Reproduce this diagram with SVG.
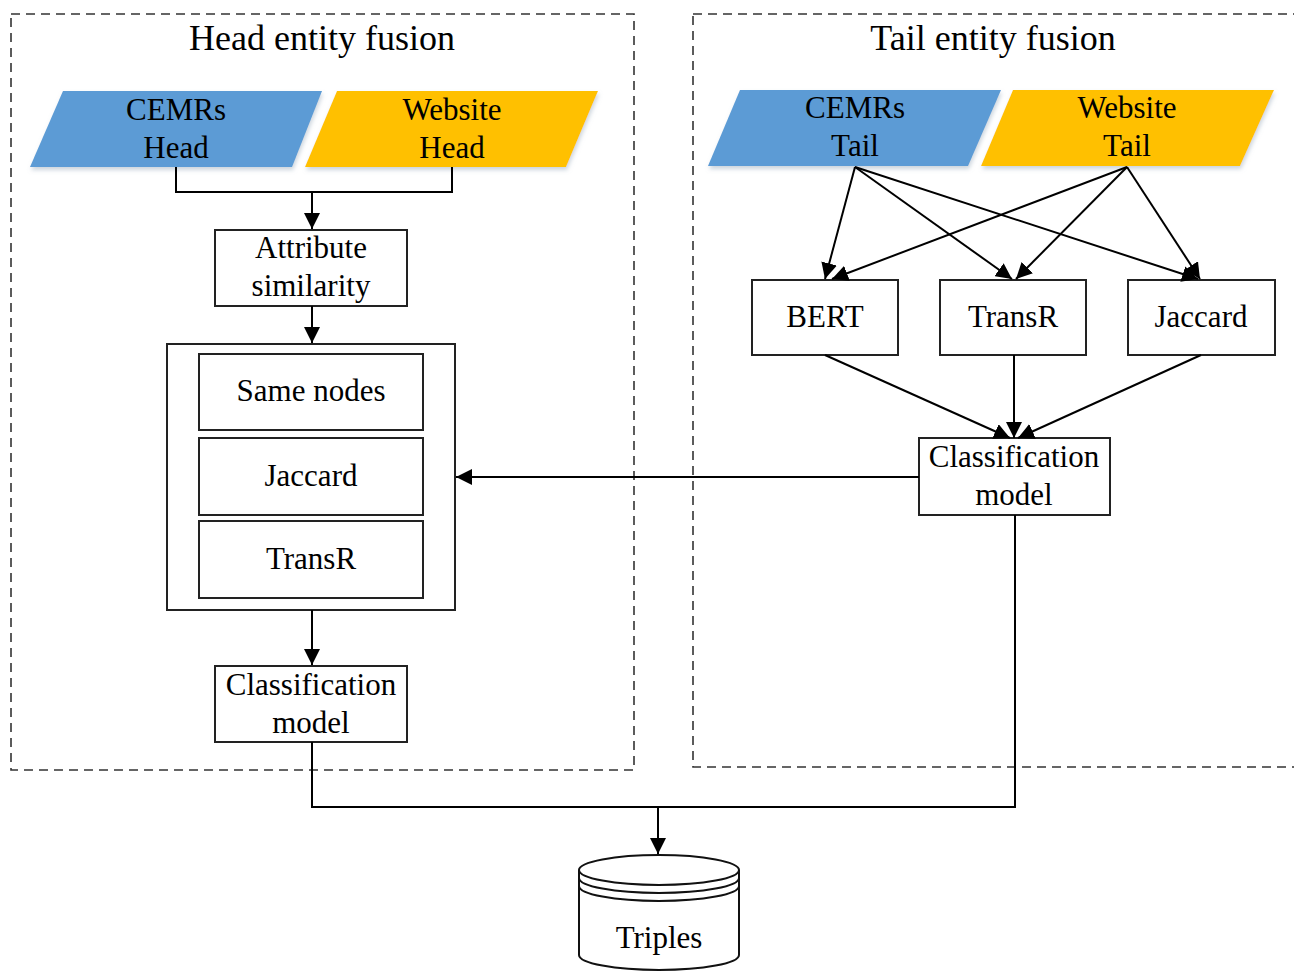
<svg xmlns="http://www.w3.org/2000/svg" width="1294" height="972" viewBox="0 0 1294 972">
<style>
text{font-family:"Liberation Serif","Times New Roman",serif;fill:#000;text-anchor:middle}
.t{font-size:36px}
.n{font-size:31px}
.box{fill:#fff;stroke:#222;stroke-width:2}
.dash{fill:none;stroke:#333;stroke-width:1.6;stroke-dasharray:9,6}
.ln{fill:none;stroke:#000;stroke-width:2}
.blue{fill:#5b9bd5}
.gold{fill:#ffc000}
</style>
<defs>
<marker id="ah2" viewBox="0 0 10 10" refX="10" refY="5" markerWidth="16" markerHeight="16" markerUnits="userSpaceOnUse" orient="auto"><path d="M0,0 L10,5 L0,10 z" fill="#000"/></marker>
<filter id="sh" x="-10%" y="-10%" width="120%" height="130%"><feDropShadow dx="1" dy="3" stdDeviation="2" flood-color="#9ab" flood-opacity="0.5"/></filter>
</defs>

<g id="head-group">
<rect class="dash" x="11" y="14" width="623" height="756"/>
<text class="t" x="322" y="50">Head entity fusion</text>
</g>
<g id="tail-group">
<rect class="dash" x="693" y="14" width="610" height="753"/>
<text class="t" x="993" y="50">Tail entity fusion</text>
</g>

<g id="cemrs-head"><polygon class="blue" filter="url(#sh)" points="63,91 322,91 292,167 30,167"/><text class="n" x="176" y="120">CEMRs</text><text class="n" x="176" y="158">Head</text></g>
<g id="website-head"><polygon class="gold" filter="url(#sh)" points="337,91 598,91 566,167 305,167"/><text class="n" x="452" y="120">Website</text><text class="n" x="452" y="158">Head</text></g>
<g id="cemrs-tail"><polygon class="blue" filter="url(#sh)" points="740,90 1001,90 968,166 708,166"/><text class="n" x="855" y="118">CEMRs</text><text class="n" x="855" y="156">Tail</text></g>
<g id="website-tail"><polygon class="gold" filter="url(#sh)" points="1013,90 1274,90 1240,166 981,166"/><text class="n" x="1127" y="118">Website</text><text class="n" x="1127" y="156">Tail</text></g>

<g id="attribute-similarity"><rect class="box" x="215" y="230" width="192" height="76"/><text class="n" x="311" y="258">Attribute</text><text class="n" x="311" y="296">similarity</text></g>
<g id="head-methods"><rect class="box" x="167" y="344" width="288" height="266"/></g>
<g id="same-nodes"><rect class="box" x="199" y="354" width="224" height="76"/><text class="n" x="311" y="401">Same nodes</text></g>
<g id="jaccard-head"><rect class="box" x="199" y="438" width="224" height="77"/><text class="n" x="311" y="486">Jaccard</text></g>
<g id="transr-head"><rect class="box" x="199" y="521" width="224" height="77"/><text class="n" x="311" y="569">TransR</text></g>
<g id="class-head"><rect class="box" x="215" y="666" width="192" height="76"/><text class="n" x="311" y="695">Classification</text><text class="n" x="311" y="733">model</text></g>

<g id="bert"><rect class="box" x="752" y="280" width="146" height="75"/><text class="n" x="825" y="327">BERT</text></g>
<g id="transr-tail"><rect class="box" x="940" y="280" width="146" height="75"/><text class="n" x="1013" y="327">TransR</text></g>
<g id="jaccard-tail"><rect class="box" x="1128" y="280" width="147" height="75"/><text class="n" x="1201" y="327">Jaccard</text></g>
<g id="class-tail"><rect class="box" x="919" y="438" width="191" height="77"/><text class="n" x="1014" y="467">Classification</text><text class="n" x="1014" y="505">model</text></g>

<g id="triples">
<path d="M579,870 L579,955 A80,15 0 0 0 739,955 L739,870" fill="#fff" stroke="#111" stroke-width="2"/>
<ellipse cx="659" cy="870" rx="80" ry="15" fill="#fff" stroke="#111" stroke-width="2"/>
<path d="M579,878 A80,15 0 0 0 739,878 M579,886 A80,15 0 0 0 739,886" fill="none" stroke="#111" stroke-width="2"/>
<text class="n" x="659" y="948">Triples</text>
</g>

<g id="connectors">
<path class="ln" d="M176,167 V192 H452 V167"/>
<path class="ln" d="M312,192 V229" marker-end="url(#ah2)"/>
<path class="ln" d="M312,306 V343" marker-end="url(#ah2)"/>
<path class="ln" d="M312,610 V665" marker-end="url(#ah2)"/>
<path class="ln" d="M312,742 V807 H1015 V515"/>
<path class="ln" d="M658,807 V854" marker-end="url(#ah2)"/>
<path class="ln" d="M919,477 H456" marker-end="url(#ah2)"/>
<path class="ln" d="M855,167 L825,279" marker-end="url(#ah2)"/>
<path class="ln" d="M855,167 L1012,279" marker-end="url(#ah2)"/>
<path class="ln" d="M855,167 L1198,279" marker-end="url(#ah2)"/>
<path class="ln" d="M1127,167 L832,279" marker-end="url(#ah2)"/>
<path class="ln" d="M1127,167 L1016,279" marker-end="url(#ah2)"/>
<path class="ln" d="M1127,167 L1200,279" marker-end="url(#ah2)"/>
<path class="ln" d="M825,355 L1010,438" marker-end="url(#ah2)"/>
<path class="ln" d="M1014,355 V438" marker-end="url(#ah2)"/>
<path class="ln" d="M1201,355 L1018,438" marker-end="url(#ah2)"/>
</g>
</svg>
